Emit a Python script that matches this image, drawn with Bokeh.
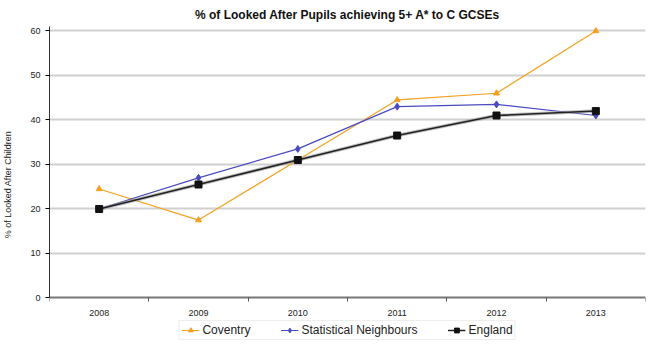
from bokeh.plotting import figure
from bokeh.models import FixedTicker, Legend, LegendItem, Range1d
from bokeh.embed import file_html
from bokeh.resources import INLINE

years = [2008, 2009, 2010, 2011, 2012, 2013]
coventry = [24.5, 17.5, 31.0, 44.5, 46.0, 60.0]
stat_neighbours = [20.0, 27.0, 33.5, 43.0, 43.5, 41.0]
england = [20.0, 25.5, 31.0, 36.5, 41.0, 42.0]
y_ticks = [0, 10, 20, 30, 40, 50, 60]
between = [2007.5, 2008.5, 2009.5, 2010.5, 2011.5, 2012.5, 2013.5]

p = figure(width=651, height=342, output_backend="svg", toolbar_location=None,
           x_range=Range1d(2007.5, 2013.5), y_range=Range1d(-10, 61),
           title="% of Looked After Pupils achieving 5+ A* to C GCSEs",
           min_border_left=30, min_border_right=6, min_border_top=5, min_border_bottom=0)
p.title.align = "center"
p.title.text_font = "Liberation Sans"
p.title.text_font_size = "12px"
p.title.text_font_style = "bold"
p.title.text_color = "#111111"

p.background_fill_color = "white"
p.border_fill_color = "white"
p.outline_line_color = None

p.xaxis.fixed_location = 0
p.xaxis.ticker = FixedTicker(ticks=years, minor_ticks=between)
p.xaxis.major_tick_line_color = None
p.xaxis.minor_tick_line_color = "#555555"
p.xaxis.minor_tick_out = 4
p.xaxis.minor_tick_in = 0
p.xaxis.axis_line_color = "#777777"
p.xaxis.axis_line_width = 2
p.xaxis.major_label_text_font = "Liberation Sans"
p.xaxis.major_label_text_font_size = "9px"
p.xaxis.major_label_text_color = "#222222"
p.xaxis.major_label_standoff = 6

p.yaxis.bounds = (0, 61)
p.yaxis.ticker = FixedTicker(ticks=y_ticks)
p.yaxis.minor_tick_line_color = None
p.yaxis.major_tick_out = 4
p.yaxis.major_tick_in = 0
p.yaxis.axis_line_color = "#333333"
p.yaxis.major_label_text_font = "Liberation Sans"
p.yaxis.major_label_text_font_size = "9px"
p.yaxis.major_label_text_color = "#222222"
p.yaxis.axis_label = "% of Looked After Children"
p.yaxis.axis_label_text_font = "Liberation Sans"
p.yaxis.axis_label_text_font_size = "9px"
p.yaxis.axis_label_text_font_style = "normal"
p.yaxis.axis_label_text_color = "#222222"
p.yaxis.axis_label_standoff = 14

p.xgrid.grid_line_color = None
p.ygrid.ticker = FixedTicker(ticks=y_ticks[1:])
p.ygrid.grid_line_color = "#d0d0d0"
p.ygrid.grid_line_width = 2

c_line = p.line(years, coventry, line_color="#F5A020", line_width=1.2)
c_mark = p.scatter(years, coventry, marker="triangle", size=6, fill_color="#F5A020", line_color="#F5A020")
s_line = p.line(years, stat_neighbours, line_color="#4A4AC0", line_width=1.2)
s_mark = p.scatter(years, stat_neighbours, marker="diamond", size=7, fill_color="#4A4AC0", line_color="#4A4AC0")
p.line(years, england, line_color="#999999", line_width=3.5, alpha=0.6)
e_line = p.line(years, england, line_color="#222222", line_width=1.6)
e_mark = p.scatter(years, england, marker="square", size=7, fill_color="#111111", line_color="#111111")

legend = Legend(items=[
    LegendItem(label="Coventry", renderers=[c_line, c_mark]),
    LegendItem(label="Statistical Neighbours", renderers=[s_line, s_mark]),
    LegendItem(label="England", renderers=[e_line, e_mark]),
], orientation="horizontal", location="bottom_center")
legend.label_text_font = "Liberation Sans"
legend.label_text_font_size = "12px"
legend.label_text_color = "#222222"
legend.border_line_color = "#dddddd"
legend.background_fill_color = "white"
legend.background_fill_alpha = 1.0
legend.padding = 2
legend.margin = 2
legend.spacing = 30
legend.glyph_width = 18
legend.glyph_height = 12
legend.label_height = 12
legend.label_standoff = 3
p.add_layout(legend)

open("out.html", "w").write(file_html(p, INLINE))
